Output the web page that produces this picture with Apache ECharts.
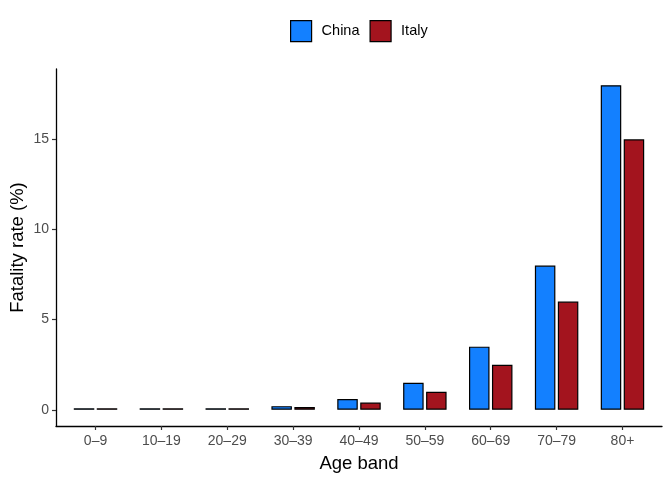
<!DOCTYPE html>
<html><head><meta charset="utf-8">
<script src="https://cdn.jsdelivr.net/npm/echarts@6/dist/echarts.min.js"></script>
<style>html,body{margin:0;padding:0;background:#fff}#c{width:672px;height:480px}</style>
</head><body><div id="c"></div>
<script>
var categories = ['0–9','10–19','20–29','30–39','40–49','50–59','60–69','70–79','80+'];
var china = [0, 0.02, 0.05, 0.2, 0.6, 1.5, 3.5, 8.0, 18.0];
var italy = [0, 0.02, 0.05, 0.15, 0.4, 1.0, 2.5, 6.0, 15.0];
var yTicks = [0, 5, 10, 15];

var xTicks = categories.map(function (c, i) { return i; });
function pairs(arr) { return arr.map(function (v, i) { return [i, v]; }); }

var chart = echarts.init(document.getElementById('c'));
chart.setOption({
  animation: false,
  textStyle: {fontFamily: 'Liberation Sans, Arial, sans-serif'},
  legend: {
    top: 20, left: 290, padding: 0, itemWidth: 21, itemHeight: 21, itemGap: 10,
    icon: 'rect',
    textStyle: {fontSize: 14.5, color: '#000', padding: [0,0,0,5]},
    itemStyle: {borderColor: '#000', borderWidth: 1.2},
    data: ['China','Italy']
  },
  grid: {left: 56, right: 10, top: 69, bottom: 54, outerBoundsMode: 'none', containLabel: false},
  xAxis: {
    type: 'value', min: -0.6, max: 8.6,
    name: 'Age band', nameLocation: 'middle', nameGap: 28, nameMoveOverlap: false,
    nameTextStyle: {fontSize: 18.5, color: '#000'},
    splitLine: {show: false},
    axisLine: {show: true, onZero: false, lineStyle: {color: '#000', width: 1.3}},
    axisTick: {show: true, length: 4, customValues: xTicks, lineStyle: {color: '#333', width: 1.2}},
    axisLabel: {fontSize: 14, color: '#4d4d4d', margin: 8, customValues: xTicks,
      formatter: function (v) { return categories[Math.round(v)]; }}
  },
  yAxis: {
    type: 'value', min: -0.9, max: 18.9,
    name: 'Fatality rate (%)', nameLocation: 'middle', nameGap: 29, nameMoveOverlap: false,
    nameTextStyle: {fontSize: 18.5, color: '#000'},
    splitLine: {show: false},
    axisLine: {show: true, onZero: false, lineStyle: {color: '#000', width: 1.3}},
    axisTick: {show: true, length: 4, customValues: yTicks, lineStyle: {color: '#333', width: 1.2}},
    axisLabel: {fontSize: 14, color: '#4d4d4d', margin: 7, customValues: yTicks}
  },
  series: [
    {name: 'China', type: 'bar', data: pairs(china), barWidth: 20.5, barGap: '12%', barMinHeight: 1.5,
     itemStyle: {color: '#1380ff', borderColor: '#000', borderWidth: 1.2}},
    {name: 'Italy', type: 'bar', data: pairs(italy), barWidth: 20.5, barMinHeight: 1.5,
     itemStyle: {color: '#a3141e', borderColor: '#000', borderWidth: 1.2}}
  ]
});
</script></body></html>
